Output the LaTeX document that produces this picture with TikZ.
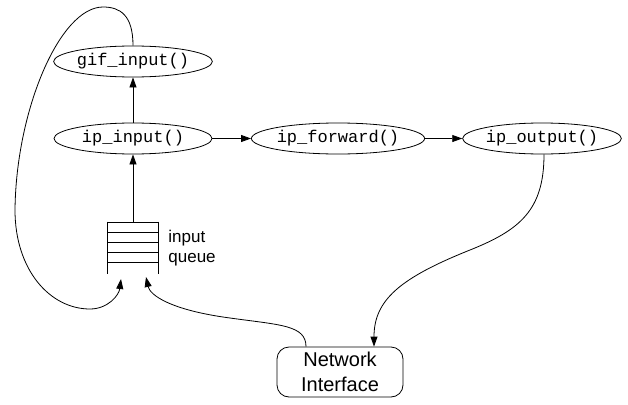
\documentclass[tikz,border=0pt]{standalone}
\usepackage{fontspec}
\setmainfont{Liberation Sans}
\newfontfamily\codefont{Liberation Mono}
\usetikzlibrary{shapes.geometric,arrows.meta}
\begin{document}
\begin{tikzpicture}[x=1pt,y=-1pt,line width=0.8pt,
  func/.style={ellipse,draw,minimum width=158pt,minimum height=31pt,inner sep=0pt,font=\codefont\fontsize{17}{20}\selectfont},
  arr/.style={-{Triangle[length=10pt,width=7pt]}},
  netbox/.style={draw,rounded corners=12pt,minimum width=126pt,minimum height=50pt,align=center,font=\fontsize{20}{25}\selectfont}]
\useasboundingbox (0,0) rectangle (628,404);
\node[func] (gif) at (133,61.5) {gif\_input()};
\node[func] (ipin) at (133,138.5) {ip\_input()};
\node[func] (fwd) at (338,138.5) {ip\_forward()};
\node[func] (out) at (542,138.5) {ip\_output()};
\node[netbox] (net) at (340,372) {Network\\Interface};
\node[minimum width=50pt,minimum height=52pt,inner sep=0pt] (queue) at (133,248) {};
\draw (queue.north west) -- (queue.south west);
\draw (queue.north east) -- (queue.south east);
\foreach \y in {222,232,242,252,262} \draw (108,\y) -- (158,\y);
\node[anchor=north west,align=left,inner sep=0pt,font=\fontsize{17}{20}\selectfont] (ql) at (168,230) {input\\queue};
\coordinate (qin1) at (121,279);
\coordinate (qin2) at (146,277);
\draw[arr] (queue.north) -- (ipin.south);
\draw[arr] (ipin.north) -- (gif.south);
\draw[arr] (ipin.east) -- (fwd.west);
\draw[arr] (fwd.east) -- (out.west);
\draw[arr] (gif.north) .. controls (133,15) and (120,7) .. (103,7) .. controls (60,7) and (16,110) .. (15,210) .. controls (15,270) and (50,309) .. (90,309) .. controls (108,309) and (119,295) .. (qin1);
\draw[arr] ([xshift=-34pt]net.north) .. controls (306,325) and (280,325) .. (230,318) .. controls (170,310) and (150,295) .. (qin2);
\draw[arr] ([xshift=2pt]out.south) .. controls (544,210) and (520,230) .. (470,250) .. controls (400,278) and (374,300) .. ([xshift=34pt]net.north);
\end{tikzpicture}
\end{document}
